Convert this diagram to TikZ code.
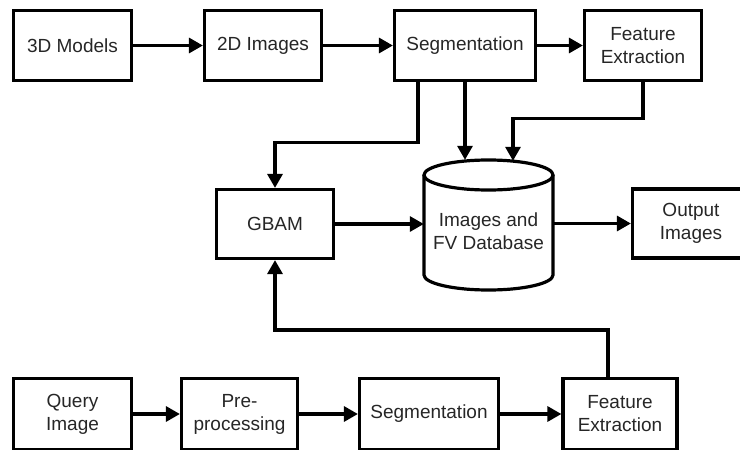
\documentclass[tikz,border=0pt]{standalone}
\usepackage{fontspec}
\setmainfont{Liberation Sans}
\usetikzlibrary{arrows.meta}
\begin{document}
\begin{tikzpicture}[x=1pt,y=1pt,
  box/.style={draw=black, line width=3.2pt, inner sep=0pt, align=center,
    font=\fontsize{19}{23}\selectfont, text=black!85},
  lbl/.style={inner sep=0pt, align=center, font=\fontsize{19}{23}\selectfont, text=black!85},
  arr/.style={line width=3.2pt, -{Triangle[length=14pt,width=15pt]}},
  ln/.style={line width=3.2pt}]
\useasboundingbox (0,0) rectangle (740,-450);
\begin{scope}
\clip (0,0) rectangle (740,-450);
% top row
\node[box, minimum width=118pt, minimum height=70pt] (m3d) at (72.5,-45.5) {3D Models};
\node[box, minimum width=117pt, minimum height=70pt] (i2d) at (263,-45.5) {2D Images};
\node[box, minimum width=141pt, minimum height=70pt] (seg1) at (465,-45.5) {Segmentation};
\node[box, minimum width=117pt, minimum height=70pt] (fe1) at (643,-45.5) {Feature\\Extraction};
% middle row
\node[box, minimum width=117pt, minimum height=69pt] (gbam) at (275,-224) {GBAM};
\node[minimum width=129pt, minimum height=130pt, inner sep=0pt] (db) at (488.5,-225) {};
\draw[ln] (488.5,-175) ellipse[x radius=64.5pt, y radius=15pt];
\draw[ln] (424,-175) -- (424,-275) arc[start angle=180, end angle=360, x radius=64.5pt, y radius=15pt] -- (553,-175);
\node[lbl] (dbtext) at (488.5,-231) {Images and\\FV Database};
\node[box, minimum width=117pt, minimum height=69pt] (out) at (691,-223.5) {Output\\Images};
% bottom row
\node[box, minimum width=118pt, minimum height=71pt] (q) at (72.5,-414) {Query\\Image};
\node[box, minimum width=116pt, minimum height=71pt] (pre) at (239.5,-414) {Pre-\\processing};
\node[box, minimum width=139pt, minimum height=71pt] (seg2) at (429,-414) {Segmentation};
\node[box, minimum width=114pt, minimum height=71pt] (fe2) at (620,-414) {Feature\\Extraction};
% connectors
\draw[arr] (m3d) -- (i2d);
\draw[arr] (i2d) -- (seg1);
\draw[arr] (seg1) -- (fe1);
\draw[arr] ([xshift=-47pt]seg1.south) -- ++(0,-60) -| (gbam.north);
\draw[arr] (seg1.south) -- (seg1.south |- db.north);
\draw[arr] (fe1.south) -- ++(0,-36) -| ([xshift=24.5pt,yshift=-1pt]db.north);
\draw[arr] (gbam.east) -- (gbam.east -| db.west);
\draw[arr] (db.east |- out.west) -- (out.west);
\draw[arr] (q) -- (pre);
\draw[arr] (pre) -- (seg2);
\draw[arr] (seg2) -- (fe2);
\draw[arr] ([xshift=-12pt]fe2.north) -- ++(0,47) -| (gbam.south);
\end{scope}
\end{tikzpicture}
\end{document}
